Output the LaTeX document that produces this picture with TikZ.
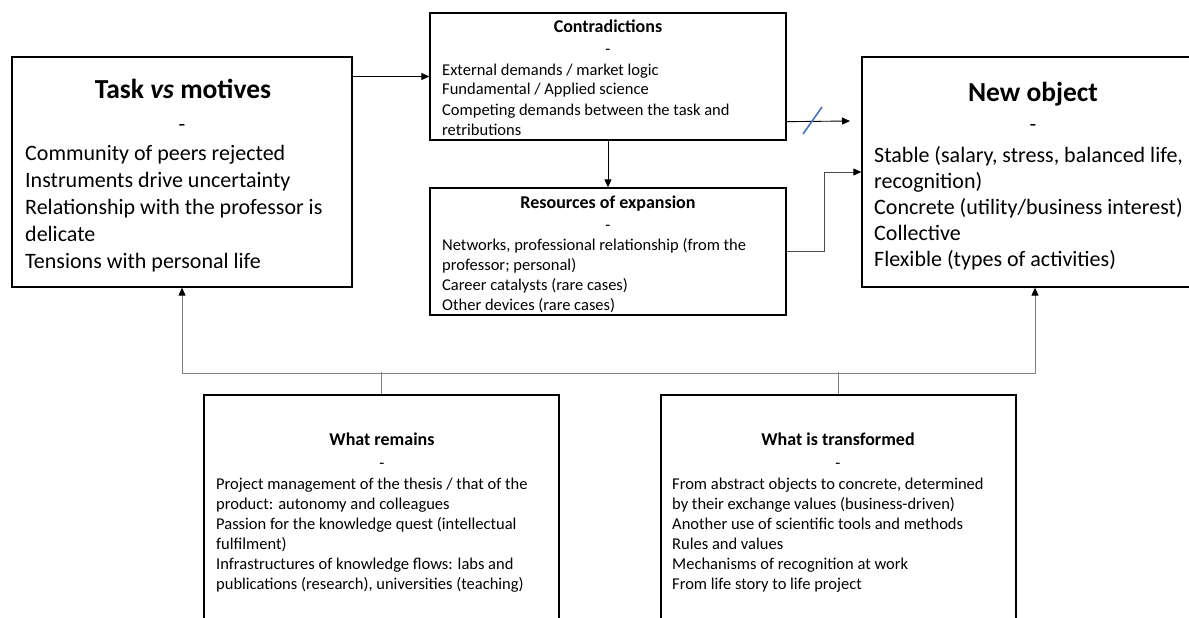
\documentclass[tikz,border=0pt]{standalone}
\usepackage{fontspec}
\setmainfont{Carlito}
\usetikzlibrary{arrows.meta}
\begin{document}
\begin{tikzpicture}[x=1pt,y=-1pt,
  box/.style={draw, line width=1.3pt, inner sep=0pt},
  bigtitle/.style={font=\fontsize{27.5}{32}\selectfont\bfseries, anchor=base, inner sep=0pt},
  bigline/.style={font=\fontsize{22}{27}\selectfont, anchor=base west, inner sep=0pt},
  bigdash/.style={font=\fontsize{22}{27}\selectfont, anchor=base, inner sep=0pt},
  smalltitle/.style={font=\fontsize{18}{22}\selectfont\bfseries, anchor=base, inner sep=0pt},
  smallline/.style={font=\fontsize{16.5}{20}\selectfont, anchor=base west, inner sep=0pt},
  smalldash/.style={font=\fontsize{16.5}{20}\selectfont, anchor=base, inner sep=0pt},
  tip/.tip={Triangle[length=8pt,width=7pt,color=black]},
  conn/.style={draw=black, line width=0.9pt, -tip},
  conngray/.style={draw=black!70, line width=0.9pt, -tip},
  tree/.style={draw=black!50, line width=1pt},
  slash/.style={draw={rgb,255:red,68;green,114;blue,196}, line width=1.6pt}
]
\useasboundingbox (0,0) rectangle (1189,618);

% boxes
\node[box, minimum width=340pt, minimum height=230pt] (task) at (182,172) {};
\node[box, minimum width=356pt, minimum height=127pt] (contra) at (608,76.5) {};
\node[box, minimum width=356pt, minimum height=127pt] (res) at (608,251.5) {};
\node[box, minimum width=346pt, minimum height=230pt] (newobj) at (1035,172) {};
\node[box, minimum width=355pt, minimum height=260pt] (remains) at (381.5,525) {};
\node[box, minimum width=355pt, minimum height=260pt] (trans) at (838.5,525) {};

% Task vs motives
\node[bigtitle] (taskT) at (183,99) {Task \textit{vs} motives};
\node[bigdash] (taskD) at (182,131) {-};
\foreach \t [count=\i] in {Community of peers rejected, Instruments drive uncertainty, Relationship with the professor is, delicate, Tensions with personal life}
  \node[bigline] (taskL\i) at (25,{160+27*(\i-1)}) {\t};

% Contradictions
\node[smalltitle] (contraT) at (608,33) {Contradictions};
\node[smalldash] (contraD) at (608,55) {-};
\foreach \t [count=\i] in {External demands / market logic, Fundamental / Applied science, Competing demands between the task and, retributions}
  \node[smallline] (contraL\i) at (442,{75+20*(\i-1)}) {\t};

% Resources of expansion
\node[smalltitle] (resT) at (608,208) {Resources of expansion};
\node[smalldash] (resD) at (608,230) {-};
\foreach \t [count=\i] in {{Networks, professional relationship (from the}, {professor; personal)}, Career catalysts (rare cases), Other devices (rare cases)}
  \node[smallline] (resL\i) at (442,{250+20*(\i-1)}) {\t};

% New object
\node[bigtitle] (newT) at (1033,101) {New object};
\node[bigdash] (newD) at (1033,131) {-};
\foreach \t [count=\i] in {{Stable (salary, stress, balanced life,}, recognition), Concrete (utility/business interest), Collective, Flexible (types of activities)}
  \node[bigline] (newL\i) at (874,{162+26.2*(\i-1)}) {\t};

% What remains
\node[smalltitle] (remT) at (382,445) {What remains};
\node[smalldash] (remD) at (382,468) {-};
\foreach \t [count=\i] in {Project management of the thesis / that of the, product: autonomy and colleagues, Passion for the knowledge quest (intellectual, fulfilment), Infrastructures of knowledge flows: labs and, {publications (research), universities (teaching)}}
  \node[smallline] (remL\i) at (216,{489+20*(\i-1)}) {\t};

% What is transformed
\node[smalltitle] (trT) at (838,445) {What is transformed};
\node[smalldash] (trD) at (838,468) {-};
\foreach \t [count=\i] in {{From abstract objects to concrete, determined}, by their exchange values (business-driven), Another use of scientific tools and methods, Rules and values, Mechanisms of recognition at work, From life story to life project}
  \node[smallline] (trL\i) at (672,{489+20*(\i-1)}) {\t};

% connectors
\draw[conn] (contra.west -| task.east) -- (contra.west);
\draw[conn] (contra.south) -- (res.north);
\path (contra.south east) ++(0,-19) coordinate (cs);
\coordinate (ce) at (850,121);
\draw[conn] (cs) -- (ce);
\draw[slash] (803,134) -- (822,107);
\draw[conngray] (res.east) -- ++(38,0) |- (newobj.west);
\draw[tree, tip-tip] (task.south) -- ++(0,86) coordinate (jl) -| (newobj.south);
\draw[tree] (remains.north) -- ++(0,-22);
\draw[tree] (trans.north) -- ++(0,-22);
\end{tikzpicture}
\end{document}
